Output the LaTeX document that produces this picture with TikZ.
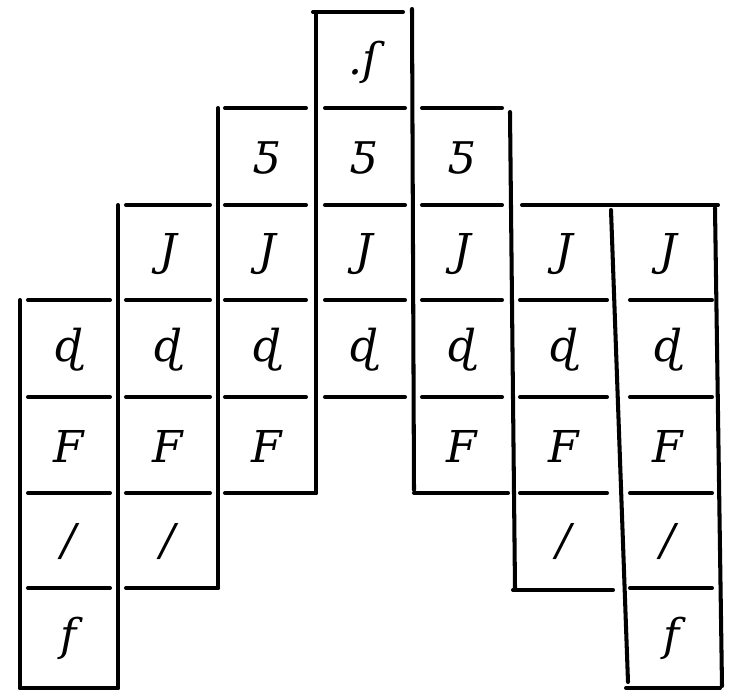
\documentclass[tikz,border=0pt]{standalone}
\usepackage{fontspec}
\newfontfamily\signfont{DejaVu Serif}
\tikzset{
  tabrule/.style={line width=2.3pt, line cap=round},
  tabsign/.style={font=\signfont\itshape\fontsize{25}{27}\selectfont, inner sep=0pt, anchor=center},
}

\begin{document}
\begin{tikzpicture}[x=0.02cm, y=-0.02cm]
  \useasboundingbox (0,0) rectangle (731,697);
  % vertical rules
  \draw[tabrule] (20,300) -- (20,688);
  \draw[tabrule] (118,205) -- (118,688);
  \draw[tabrule] (218,108) -- (218,588);
  \draw[tabrule] (316,12) -- (316,493);
  \draw[tabrule] (412,9) -- (414,490);
  \draw[tabrule] (510,112) -- (515,588);
  \draw[tabrule] (611,210) -- (628,682);
  \draw[tabrule] (715,208) -- (722,686);
  % horizontal rules, column by column
  \foreach \y in {300,397,493,588}
    \draw[tabrule] (28,\y) -- (110,\y);
  \draw[tabrule] (20,688) -- (118,688);
  \foreach \y in {205,300,397,493}
    \draw[tabrule] (126,\y) -- (210,\y);
  \draw[tabrule] (126,588) -- (218,588);
  \foreach \y in {108,205,300,397}
    \draw[tabrule] (225,\y) -- (306,\y);
  \draw[tabrule] (225,493) -- (316,493);
  \draw[tabrule] (313,12) -- (403,12);
  \foreach \y in {108,205,300,397}
    \draw[tabrule] (325,\y) -- (405,\y);
  \foreach \y in {108,205,300,397}
    \draw[tabrule] (422,\y) -- (502,\y);
  \draw[tabrule] (414,493) -- (508,493);
  \draw[tabrule] (522,205) -- (718,205);
  \foreach \y in {300,397,493}
    \draw[tabrule] (520,\y) -- (607,\y);
  \draw[tabrule] (513,590) -- (613,590);
  \foreach \y in {300,397,493,588}
    \draw[tabrule] (630,\y) -- (712,\y);
  \draw[tabrule] (626,688) -- (720,688);
  % signs
  \node[tabsign] (c4r1) at (364,62) {.ſ};
  \node[tabsign] (c3r2) at (267,158) {ƽ};
  \node[tabsign] (c4r2) at (364,158) {ƽ};
  \node[tabsign] (c5r2) at (462,158) {ƽ};
  \foreach \c/\x in {2/168,3/267,4/364,5/462,6/564,7/668}
    \node[tabsign] (c\c r3) at (\x,254) {J};
  \foreach \c/\x in {1/69,2/168,3/267,4/364,5/462,6/564,7/668}
    \node[tabsign] (c\c r4) at (\x,350) {ɖ};
  \foreach \c/\x in {1/69,2/168,3/267,5/462,6/564,7/668}
    \node[tabsign] (c\c r5) at (\x,446) {F};
  \foreach \c/\x in {1/69,2/168,6/564,7/668}
    \node[tabsign] (c\c r6) at (\x,542) {/};
  \node[tabsign] (c1r7) at (69,638) {f};
  \node[tabsign] (c7r7) at (672,638) {f};
\end{tikzpicture}
\end{document}
